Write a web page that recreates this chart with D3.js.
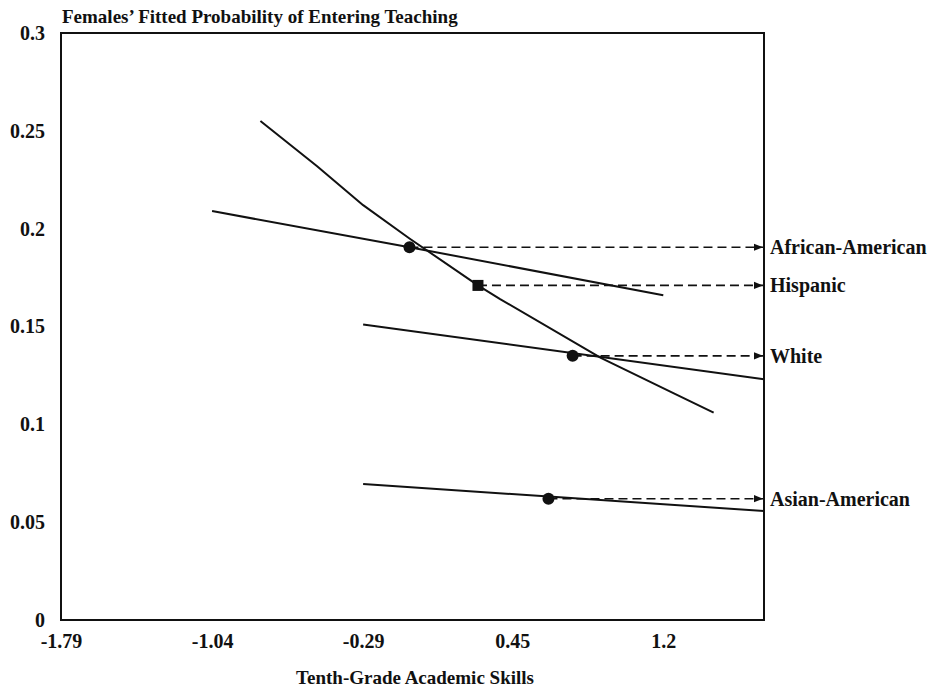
<!DOCTYPE html>
<html>
<head>
<meta charset="utf-8">
<script src="https://cdn.jsdelivr.net/npm/d3@7"></script>
<style>
	body { margin: 0; background: #fff; }
	text { font-family: "Liberation Serif", "Times New Roman", serif; fill: #111; }
</style>
</head>
<body>
<svg id="chart" width="929" height="691"></svg>
<script>
// tick labels
var xTicks = [-1.79, -1.04, -0.29, 0.45, 1.2];
var yTicks = [0, 0.05, 0.1, 0.15, 0.2, 0.25, 0.3];

// fitted curves, one per group
var africanX = [-1.04, -0.06, 1.2];
var africanY = [0.209, 0.1905, 0.166];
var hispanicX = [-0.80, -0.52, -0.29, -0.06, 0.28, 0.39, 0.89, 1.25, 1.45];
var hispanicY = [0.255, 0.232, 0.212, 0.195, 0.171, 0.164, 0.134, 0.116, 0.106];
var whiteX = [-0.29, 1.70];
var whiteY = [0.151, 0.123];
var asianX = [-0.29, 1.70];
var asianY = [0.0695, 0.0557];

// marked point on each curve and its label
var groups = ["African-American", "Hispanic", "White", "Asian-American"];
var markX = [-0.06, 0.28, 0.75, 0.63];
var markY = [0.1905, 0.171, 0.135, 0.062];
var markShape = ["circle", "square", "circle", "circle"];

var svg = d3.select("#chart");
var pLeft = 61, pRight = 764, pTop = 33, pBottom = 620;

var xScale = d3.scaleLinear().domain([-1.79, 1.70]).range([pLeft, pRight]);
var yScale = d3.scaleLinear().domain([0, 0.3]).range([pBottom, pTop]);

// title and axis label
svg.append("text")
	.text("Females\u2019 Fitted Probability of Entering Teaching")
	.attr("x", 62).attr("y", 23)
	.attr("font-size", 19).attr("font-weight", "bold");
svg.append("text")
	.text("Tenth-Grade Academic Skills")
	.attr("x", 415).attr("y", 684)
	.attr("text-anchor", "middle")
	.attr("font-size", 19).attr("font-weight", "bold");

// axes without tick marks
var xAxis = svg.append("g")
	.attr("transform", "translate(0," + pBottom + ")")
	.call(d3.axisBottom(xScale).tickValues(xTicks).tickSize(0).tickPadding(14)
		.tickFormat(function(d) { return String(d); }));
var yAxis = svg.append("g")
	.attr("transform", "translate(" + pLeft + ",0)")
	.call(d3.axisLeft(yScale).tickValues(yTicks).tickSize(0).tickPadding(16)
		.tickFormat(function(d) { return String(d); }));
[xAxis, yAxis].forEach(function(ax) {
	ax.select(".domain").remove();
	ax.selectAll("text")
		.attr("font-size", 20).attr("font-weight", "bold")
		.attr("font-family", "Liberation Serif, Times New Roman, serif")
		.attr("fill", "#111");
});

// plot frame
svg.append("rect")
	.attr("x", pLeft).attr("y", pTop)
	.attr("width", pRight - pLeft).attr("height", pBottom - pTop)
	.attr("fill", "none").attr("stroke", "#111").attr("stroke-width", 2);

var line = d3.line()
	.x(function(d) { return xScale(d[0]); })
	.y(function(d) { return yScale(d[1]); });

var curves = [[africanX, africanY], [hispanicX, hispanicY], [whiteX, whiteY], [asianX, asianY]];
curves.forEach(function(c) {
	var data = c[0].map(function(v, i) { return [v, c[1][i]]; });
	svg.append("path")
		.datum(data)
		.attr("fill", "none").attr("stroke", "#111")
		.attr("stroke-width", 2).attr("stroke-linejoin", "round")
		.attr("d", line);
});

svg.append("defs").append("marker")
	.attr("id", "arrow")
	.attr("viewBox", "0 0 10 10")
	.attr("refX", 10).attr("refY", 5)
	.attr("markerWidth", 9).attr("markerHeight", 9)
	.attr("markerUnits", "userSpaceOnUse")
	.attr("orient", "auto")
	.append("path").attr("d", "M0,1L10,5L0,9Z").attr("fill", "#111");

groups.forEach(function(name, i) {
	var px = xScale(markX[i]), py = yScale(markY[i]);
	svg.append("line")
		.attr("x1", px).attr("y1", py)
		.attr("x2", pRight - 1).attr("y2", py)
		.attr("stroke", "#111").attr("stroke-width", 1.6)
		.attr("stroke-dasharray", "9,5")
		.attr("marker-end", "url(#arrow)");
	if (markShape[i] == "square") {
		svg.append("rect")
			.attr("x", px - 5.5).attr("y", py - 5.5)
			.attr("width", 11).attr("height", 11)
			.attr("fill", "#111");
	} else {
		svg.append("circle")
			.attr("cx", px).attr("cy", py).attr("r", 6)
			.attr("fill", "#111");
	}
	svg.append("text")
		.text(name)
		.attr("x", pRight + 6).attr("y", py)
		.attr("dominant-baseline", "central")
		.attr("font-size", 20).attr("font-weight", "bold");
});
</script>
</body>
</html>
